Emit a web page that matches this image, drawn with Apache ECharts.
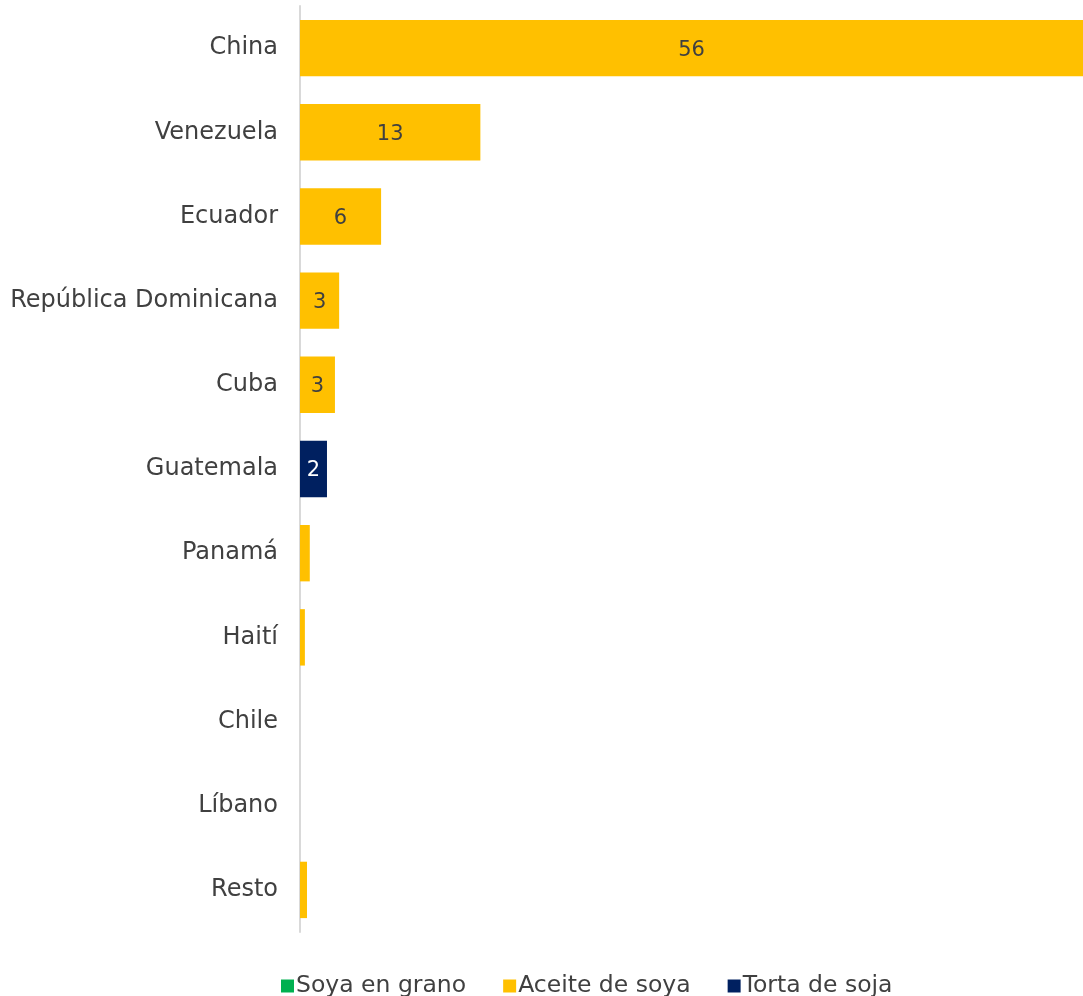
<!DOCTYPE html>
<html><head><meta charset="utf-8">
<script src="https://cdn.jsdelivr.net/npm/echarts@6/dist/echarts.min.js"></script>
<style>html,body{margin:0;padding:0;background:#fff}#c{width:1083px;height:996px}</style>
</head><body><div id="c"></div>
<script>
const categories = ["China","Venezuela","Ecuador","República Dominicana","Cuba","Guatemala","Panamá","Haití","Chile","Líbano","Resto"];
const soyaGrano = [0,0,0,0,0,0,0,0,0,0,0];
const aceiteSoya = [56,12.9,5.8,2.8,2.5,0,0.7,0.35,0,0,0.5];
const tortaSoja = [0,0,0,0,0,1.93,0,0,0,0,0];
const FONT = "DejaVu Sans";
const chart = echarts.init(document.getElementById('c'));
function lbl(color){
  return {show:true, position:'inside', offset:[0,2], color:color, fontFamily:FONT, fontSize:21,
    formatter:p=> p.value>=1 ? String(Math.round(p.value)) : ''};
}
chart.setOption({
  animation:false,
  textStyle:{fontFamily:FONT},
  grid:{left:300,right:0,top:6,bottom:64,containLabel:false},
  xAxis:{type:'value',min:0,max:56,show:false},
  yAxis:{type:'category',data:categories,inverse:true,
    axisLine:{lineStyle:{color:'#d9d9d9',width:2}},axisTick:{show:false},
    axisLabel:{color:'#404040',fontSize:24,fontFamily:FONT,margin:22,padding:[4,0,0,0]}},
  legend:{top:969,left:276,itemWidth:13,itemHeight:13,itemGap:37,icon:'rect',
    textStyle:{color:'#404040',fontSize:23.5,fontFamily:FONT,padding:[0,0,0,-3]}},
  series:[
    {name:'Soya en grano',type:'bar',stack:'t',data:soyaGrano,barCategoryGap:'33%',itemStyle:{color:'#00B050'},label:lbl('#404040')},
    {name:'Aceite de soya',type:'bar',stack:'t',data:aceiteSoya,itemStyle:{color:'#FFC000'},label:lbl('#404040')},
    {name:'Torta de soja',type:'bar',stack:'t',data:tortaSoja,itemStyle:{color:'#002060'},label:lbl('#ffffff')}
  ]
});
</script></body></html>
